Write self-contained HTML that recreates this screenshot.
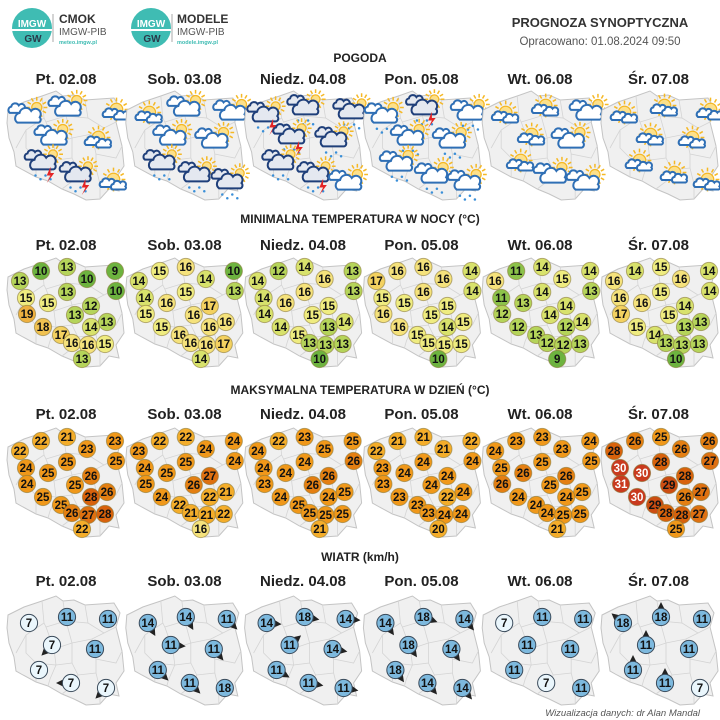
<!DOCTYPE html>
<html><head><meta charset="utf-8">
<style>
body{margin:0;background:#fff;}
svg{display:block;font-family:"Liberation Sans","DejaVu Sans",sans-serif;}
</style></head>
<body>
<svg id="c" width="720" height="720" viewBox="0 0 720 720">
  <g>
    <circle cx="32" cy="28" r="20" fill="#3fbcb3"/>
    <rect x="12" y="29" width="40" height="2" fill="#fff"/>
    <text x="32" y="27" font-size="10" font-weight="bold" fill="#fff" text-anchor="middle">IMGW</text>
    <text x="33" y="42" font-size="10" font-weight="bold" fill="#2a3a4a" text-anchor="middle">GW</text>
    <line x1="53" y1="14" x2="53" y2="42" stroke="#aaa"/>
    <text x="59" y="23" font-size="12" font-weight="bold" fill="#333">CMOK</text>
    <text x="59" y="35" font-size="10" fill="#555">IMGW-PIB</text>
    <text x="59" y="44" font-size="5.5" fill="#3fbcb3" font-weight="bold">meteo.imgw.pl</text>
  </g>
  <g>
    <circle cx="151" cy="28" r="20" fill="#3fbcb3"/>
    <rect x="131" y="29" width="40" height="2" fill="#fff"/>
    <text x="151" y="27" font-size="10" font-weight="bold" fill="#fff" text-anchor="middle">IMGW</text>
    <text x="152" y="42" font-size="10" font-weight="bold" fill="#2a3a4a" text-anchor="middle">GW</text>
    <line x1="172" y1="14" x2="172" y2="42" stroke="#aaa"/>
    <text x="177" y="23" font-size="12" font-weight="bold" fill="#333">MODELE</text>
    <text x="177" y="35" font-size="10" fill="#555">IMGW-PIB</text>
    <text x="177" y="44" font-size="5.5" fill="#3fbcb3" font-weight="bold">modele.imgw.pl</text>
  </g>
  <text x="600" y="27" font-size="13" font-weight="bold" fill="#333" text-anchor="middle">PROGNOZA SYNOPTYCZNA</text>
  <text x="600" y="45" font-size="11.5" fill="#555" text-anchor="middle">Opracowano: 01.08.2024 09:50</text>
  <text x="360" y="62" font-size="12" font-weight="bold" fill="#222" text-anchor="middle">POGODA</text>
  <text x="360" y="223" font-size="12" font-weight="bold" fill="#222" text-anchor="middle">MINIMALNA TEMPERATURA W NOCY (°C)</text>
  <text x="360" y="394" font-size="12" font-weight="bold" fill="#222" text-anchor="middle">MAKSYMALNA TEMPERATURA W DZIEŃ (°C)</text>
  <text x="360" y="561" font-size="12" font-weight="bold" fill="#222" text-anchor="middle">WIATR (km/h)</text>
  <text x="700" y="716" font-size="9.5" font-style="italic" fill="#555" text-anchor="end">Wizualizacja danych: dr Alan Mandal</text>
  <g id="content"></g>
</svg>
<script>
const days = ["Pt. 02.08","Sob. 03.08","Niedz. 04.08","Pon. 05.08","Wt. 06.08","Śr. 07.08"];
const minTemp = [
 [10,13,10,9,10,13,13,15,15,12,19,13,13,18,14,17,16,16,15,13],
 [15,16,14,10,13,14,15,14,16,17,15,16,16,15,16,16,16,16,17,14],
 [12,14,16,13,13,14,16,14,16,15,14,15,14,14,13,15,13,13,13,10],
 [16,16,16,14,14,17,16,15,15,15,16,15,15,16,14,15,15,15,15,10],
 [11,14,15,14,13,16,14,11,13,14,12,14,14,12,12,13,12,12,13,9],
 [14,15,16,14,14,16,15,16,16,14,17,15,13,15,13,14,13,13,13,10]
];
const maxTemp = [
 [22,21,23,23,25,22,25,24,25,26,24,25,26,25,28,25,26,27,28,22],
 [22,22,24,24,24,23,25,24,25,27,25,26,21,24,22,22,21,21,22,16],
 [22,23,25,25,26,24,24,24,24,26,23,26,25,24,24,25,25,25,25,21],
 [21,21,21,22,24,22,24,23,24,24,23,24,24,23,22,23,23,24,24,20],
 [23,23,23,24,25,24,25,25,26,26,26,25,25,24,24,24,24,25,25,21],
 [26,25,26,26,27,28,28,30,30,28,31,29,27,30,26,29,28,28,27,25]
];
const windSpeed = [
 [7,11,11,7,11,7,7,7],
 [14,14,11,11,11,11,11,18],
 [14,18,14,11,14,11,11,11],
 [14,18,14,18,14,18,14,14],
 [7,11,11,11,11,11,7,11],
 [18,18,11,11,11,11,11,7]
];
const windDir = [
 [null,null,null,135,null,null,180,135],
 [60,60,45,5,50,45,45,null],
 [5,10,5,-40,10,30,10,10],
 [55,20,50,55,55,55,50,50],
 [null,null,null,null,null,null,null,null],
 [-140,-90,null,-90,null,-90,-90,null]
];
// 0 cloud+sun, 1 sun+small clouds, 3 dark cloud rain, 4 storm, 5 cloud+sun+rain
const weatherType = [
 [0,0,1,0,1,4,4,1],
 [1,0,0,0,0,3,3,3],
 [4,3,3,4,3,3,4,0],
 [5,4,5,5,5,5,5,5],
 [1,1,0,1,0,1,0,0],
 [1,1,1,1,1,1,1,1]
];

const NS="http://www.w3.org/2000/svg";
const root=document.getElementById('content');
function mk(tag,attrs,parent){const e=document.createElementNS(NS,tag);for(const k in attrs)e.setAttribute(k,attrs[k]);(parent||root).appendChild(e);return e;}
const panelX=i=>6+i*118.8;
const dayCx=i=>66+i*118.5;
const tStations=[[35,16],[61,12],[81,24],[109,16],[110,36],[14,26],[61,37],[20,43],[42,48],[85,51],[21,59],[69,60],[101,67],[37,72],[85,72],[55,80],[66,88],[82,90],[99,89],[76,104]];
const wStations=[[23,30],[61,24],[102,26],[46,52],[89,56],[33,77],[65,90],[100,95]];
const pStations=[[22,27],[62,20],[108,24],[48,49],[90,52],[37,75],[72,87],[105,94]];
const outline="M2,22 L18,14 L36,8 L50,3 L57,8 L68,7 L79,12 L108,10 L114,20 L110,34 L116,58 L118,78 L110,90 L113,103 L103,101 L94,111 L80,112 L68,106 L56,101 L42,93 L30,89 L17,82 L10,78 L8,64 L3,50 L1,35 Z";
const inner=["M36,8 L38,30 L20,42 L10,60","M57,8 L60,28 L40,34 L38,30","M79,12 L82,30 L60,28","M82,30 L98,40 L110,34","M60,28 L66,50 L48,56 L40,34","M66,50 L86,46 L98,40","M86,46 L90,66 L110,70 L116,58","M48,56 L50,72 L30,70 L20,60 L20,42","M50,72 L66,70 L66,50","M66,70 L72,82 L90,80 L90,66","M72,82 L68,92 L56,101","M90,80 L94,96 L94,111","M50,72 L44,86 L42,93","M30,70 L30,89"];
const mapTops=[88,255,425,593];
const dayYs=[84,250,419,586];

function tempColor(t){
  if(t<=10) return "#6db33f";
  if(t<=11) return "#8cc24a";
  if(t<=13) return "#b5d45a";
  if(t<=14) return "#d8e26c";
  if(t<=15) return "#efec80";
  if(t<=16) return "#f5e27c";
  if(t<=17) return "#f3d160";
  if(t<=18) return "#f0c150";
  if(t<=19) return "#eeb040";
  if(t<=22) return "#f4ad2a";
  if(t<=25) return "#f0981a";
  if(t<=26) return "#e47f12";
  if(t<=27) return "#de7010";
  if(t<=28) return "#d8620c";
  if(t<=29) return "#cc4d12";
  return "#c93a1e";
}
function drawMap(g,x,y){
  const m=mk('g',{transform:`translate(${x},${y})`},g);
  
  
  mk('path',{d:outline,fill:"#f0f0f0",stroke:"#c4c4c4","stroke-width":1},m);
  inner.forEach(d=>mk('path',{d:d,fill:"none",stroke:"#d4d4d4","stroke-width":0.8},m));
}
function sun(g,x,y,r){
  for(let a=0;a<360;a+=30){const rad=a*Math.PI/180;mk('line',{x1:x+Math.cos(rad)*(r+1.5),y1:y+Math.sin(rad)*(r+1.5),x2:x+Math.cos(rad)*(r+4.5),y2:y+Math.sin(rad)*(r+4.5),stroke:"#f5b825","stroke-width":1.2},g);}
  mk('circle',{cx:x,cy:y,r:r,fill:"#fde08a",stroke:"#f5b825","stroke-width":1},g);
}
function cloud(g,x,y,s,fill,stroke){
  const d=`M${x-10*s},${y+6*s} A${5*s},${5*s} 0 0 1 ${x-8*s},${y-3*s} A${6*s},${6*s} 0 0 1 ${x+3*s},${y-5*s} A${5*s},${5*s} 0 0 1 ${x+11*s},${y+1*s} A${3*s},${3*s} 0 0 1 ${x+10*s},${y+6*s} Z`;
  mk('path',{d:d,fill:fill,stroke:stroke,"stroke-width":1.6},g);
}
function drawWeather(g0,x0,y0,t){
  const g=mk('g',{transform:`translate(${x0},${y0}) scale(1.25)`},g0);
  const x=0,y=0;
  if(t===0){sun(g,x+7,y-6,4);cloud(g,x-9,y-5,0.55,"#fff","#2f6fb5");cloud(g,x,y+1,0.85,"#fff","#2f6fb5");}
  else if(t===1){sun(g,x+2,y-2,5);cloud(g,x-3,y+1,0.5,"#fff","#2f6fb5");cloud(g,x+6,y+3,0.5,"#fff","#2f6fb5");}
  else if(t===3||t===4){sun(g,x+8,y-7,3.5);cloud(g,x-8,y-6,0.55,"#e4e8f0","#1f3f7a");cloud(g,x,y,0.85,"#e4e8f0","#1f3f7a");
    for(let k=0;k<4;k++)mk('circle',{cx:x-6+k*4,cy:y+10+(k%2)*3,r:1,fill:"#3a8fd8"},g);
    if(t===4)mk('path',{d:`M${x+6},${y+3} L${x+3},${y+10} L${x+6},${y+10} L${x+3},${y+16} L${x+9},${y+8} L${x+6},${y+8} Z`,fill:"#e42424"},g);}
  else if(t===5){sun(g,x+7,y-6,4);cloud(g,x-9,y-5,0.55,"#fff","#2f6fb5");cloud(g,x,y+1,0.85,"#fff","#2f6fb5");
    for(let k=0;k<4;k++)mk('circle',{cx:x-6+k*4,cy:y+11+(k%2)*3,r:1,fill:"#3a8fd8"},g);}
}

days.forEach((d,i)=>{
  const px=panelX(i);
  for(let r=0;r<4;r++){
    const tl=mk('text',{x:dayCx(i),y:dayYs[r],"font-size":15,"font-weight":"bold",fill:"#222","text-anchor":"middle"});
    
    
    tl.textContent=d;
  }
  const gw=mk('g',{});
  
  
  drawMap(gw,px,mapTops[0]);
  weatherType[i].forEach((t,k)=>{
    const wi=mk('g',{},gw);
    
    
    drawWeather(wi,px+pStations[k][0],mapTops[0]+pStations[k][1],t);
  });
  [[minTemp,1,'min-temp-map-'],[maxTemp,2,'max-temp-map-']].forEach(([arr,row,nm])=>{
    const g=mk('g',{});
    
    
    drawMap(g,px,mapTops[row]);
    arr[i].forEach((v,k)=>{
      const cx=px+tStations[k][0],cy=mapTops[row]+tStations[k][1];
      const c=mk('circle',{cx:cx,cy:cy,r:8.6,fill:tempColor(v),stroke:"#8a7a3a","stroke-opacity":0.6,"stroke-width":1},g);
      
      
      const t=mk('text',{x:cx,y:cy+4,"font-size":11.5,"font-weight":"bold",fill:v>=30?"#fff":"#111","text-anchor":"middle"},g);
      
      
      t.textContent=v;
    });
  });
  const gwd=mk('g',{});
  
  
  drawMap(gwd,px,mapTops[3]);
  windSpeed[i].forEach((v,k)=>{
    const cx=px+wStations[k][0],cy=mapTops[3]+wStations[k][1];
    const dir=windDir[i][k];
    if(dir!==null){
      const a=dir*Math.PI/180,ca=Math.cos(a),sa=Math.sin(a);
      const tip=[cx+ca*15,cy+sa*15],b1=[cx+ca*7-sa*4,cy+sa*7+ca*4],b2=[cx+ca*7+sa*4,cy+sa*7-ca*4];
      const ar=mk('polygon',{points:`${tip} ${b1} ${b2}`,fill:"#222"},gwd);
      
      
    }
    const c=mk('circle',{cx:cx,cy:cy,r:8.6,fill:v<=7?"#eaf6fc":"#7db9de",stroke:"#3a4a5a","stroke-width":1},gwd);
    
    
    const t=mk('text',{x:cx,y:cy+4,"font-size":11.5,"font-weight":"bold",fill:"#111","text-anchor":"middle"},gwd);
    
    
    t.textContent=v;
  });
});
</script>
</body></html>
